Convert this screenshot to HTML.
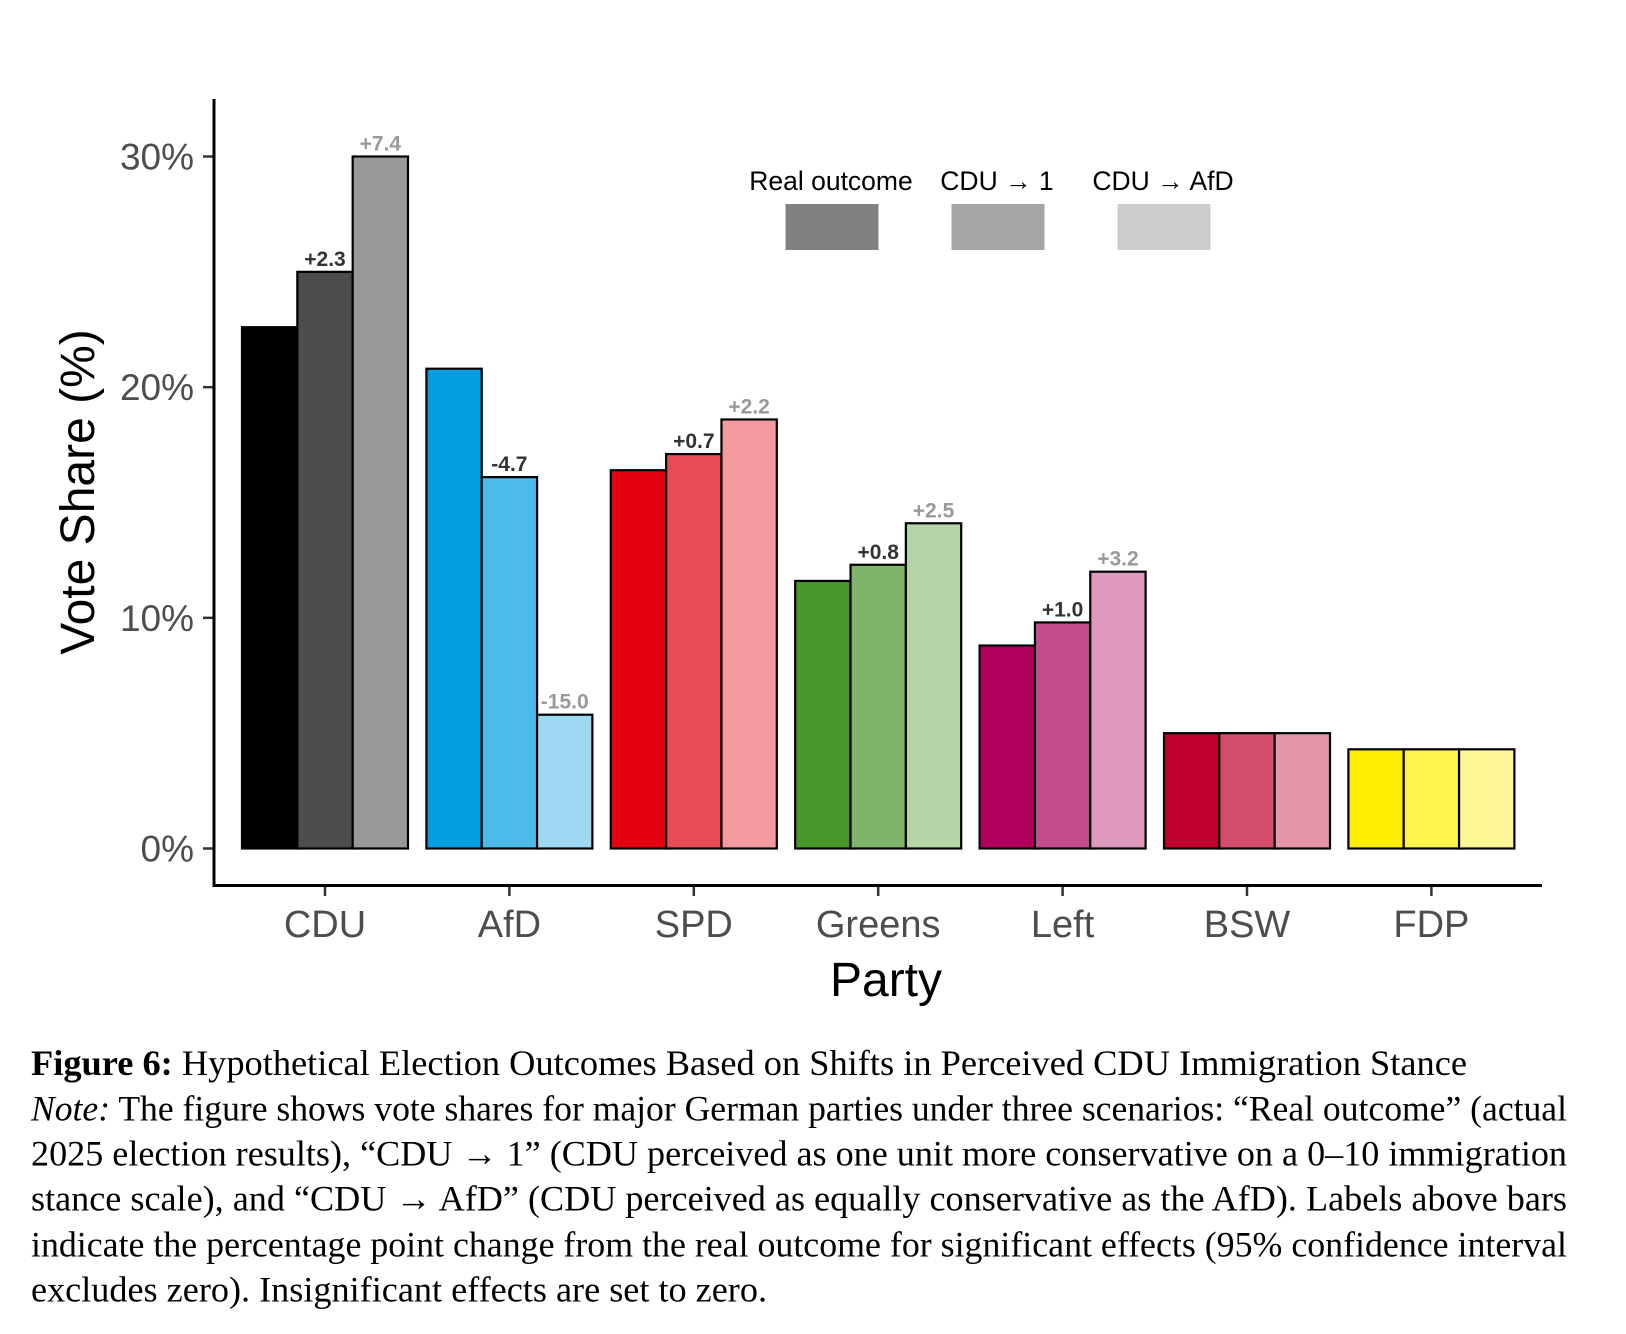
<!DOCTYPE html>
<html><head><meta charset="utf-8"><style>
html,body{margin:0;padding:0;background:#fff;}
svg{display:block;}
</style></head><body>
<svg id="chart" width="1626" height="1334" viewBox="0 0 1626 1334" xmlns="http://www.w3.org/2000/svg" font-family="'Liberation Sans', sans-serif">
<g id="bars"></g>
<g id="axes"></g>
<g>
<text x="831" y="190" font-size="26.5" text-anchor="middle" fill="#000">Real outcome</text>
<text x="997" y="190" font-size="26.5" text-anchor="middle" fill="#000">CDU → 1</text>
<text x="1163" y="190" font-size="26.5" text-anchor="middle" fill="#000">CDU → AfD</text>
<rect x="785.5" y="204" width="93" height="46" fill="#808080"/>
<rect x="951.5" y="204" width="93" height="46" fill="#a6a6a6"/>
<rect x="1117.5" y="204" width="93" height="46" fill="#cccccc"/>
</g>
<text transform="translate(94,492) rotate(-90)" font-size="48" text-anchor="middle" fill="#000">Vote Share (%)</text>
<text x="886" y="996" font-size="48" text-anchor="middle" fill="#000">Party</text>
<g font-family="'Liberation Serif', serif" font-size="36" fill="#000">
<text x="31" y="1075" textLength="1436" lengthAdjust="spacingAndGlyphs"><tspan font-weight="bold">Figure 6:</tspan> Hypothetical Election Outcomes Based on Shifts in Perceived CDU Immigration Stance</text>
<text x="31" y="1120.5" textLength="1536" lengthAdjust="spacingAndGlyphs"><tspan font-style="italic">Note:</tspan> The figure shows vote shares for major German parties under three scenarios: “Real outcome” (actual</text>
<text x="31" y="1165.5" textLength="1536" lengthAdjust="spacingAndGlyphs">2025 election results), “CDU → 1” (CDU perceived as one unit more conservative on a 0–10 immigration</text>
<text x="31" y="1210.5" textLength="1536" lengthAdjust="spacingAndGlyphs">stance scale), and “CDU → AfD” (CDU perceived as equally conservative as the AfD). Labels above bars</text>
<text x="31" y="1256.5" textLength="1536" lengthAdjust="spacingAndGlyphs">indicate the percentage point change from the real outcome for significant effects (95% confidence interval</text>
<text x="31" y="1301.5" textLength="736" lengthAdjust="spacingAndGlyphs">excludes zero). Insignificant effects are set to zero.</text>
</g>
</svg>
<script>
const parties = ["CDU","AfD","SPD","Greens","Left","BSW","FDP"];
const realOutcome = [22.6,20.8,16.4,11.6,8.8,5.0,4.3];
const cduPlus1 = [25.0,16.1,17.1,12.3,9.8,5.0,4.3];
const cduAfd = [30.0,5.8,18.6,14.1,12.0,5.0,4.3];
const labelsPlus1 = ["+2.3","-4.7","+0.7","+0.8","+1.0","",""];
const labelsAfd = ["+7.4","-15.0","+2.2","+2.5","+3.2","",""];
const yTicks = [0,10,20,30];
const colors = [
 ["#000000","#4d4d4d","#999999"],
 ["#009ee0","#4dbbe9","#9fd8f3"],
 ["#e3000f","#e84b55","#f39a9f"],
 ["#46962b","#7eb56b","#b5d5a9"],
 ["#b1005d","#c34c8d","#df98be"],
 ["#c1002f","#d44d6c","#e597a7"],
 ["#ffed00","#fff34d","#fff899"]
];
const NS="http://www.w3.org/2000/svg";
const y0=848.5, pxPer=(848.5-156.5)/30;
function yScale(v){return y0-v*pxPer;}
const step=184.4, firstCenter=325;
function xCenter(i){return firstCenter+i*step;}
const groupW=166, barW=groupW/3;
function mk(tag,attrs,parent){const e=document.createElementNS(NS,tag);for(const k in attrs)e.setAttribute(k,attrs[k]);parent.appendChild(e);return e;}
const bars=document.getElementById('bars');
const axes=document.getElementById('axes');
const series=[realOutcome,cduPlus1,cduAfd];
const labelSets=[null,labelsPlus1,labelsAfd];
const labelColors=[null,"#333333","#999999"];
parties.forEach((p,i)=>{
  const left=xCenter(i)-groupW/2;
  series.forEach((s,j)=>{
    const x=left+j*barW, y=yScale(s[i]);
    const r=mk('rect',{x:x,y:y,width:barW,height:y0-y,fill:colors[i][j],stroke:"#000","stroke-width":2.2},bars);
    
    
    if(labelSets[j] && labelSets[j][i]){
      const t=mk('text',{x:x+barW/2,y:y-6,"text-anchor":"middle","font-size":21,"font-weight":"bold",fill:labelColors[j]},bars);
      t.textContent=labelSets[j][i];
      
      
    }
  });
  const tk=mk('line',{x1:xCenter(i),x2:xCenter(i),y1:886,y2:896,stroke:"#333","stroke-width":2.5},axes);
  
  
  const tl=mk('text',{x:xCenter(i),y:937,"text-anchor":"middle","font-size":38,fill:"#4d4d4d"},axes);
  tl.textContent=p;
  
  
});
yTicks.forEach(v=>{
  const y=yScale(v);
  const tk=mk('line',{x1:203,x2:213,y1:y,y2:y,stroke:"#333","stroke-width":2.5},axes);
  
  
  const tl=mk('text',{x:194,y:y+13,"text-anchor":"end","font-size":37,fill:"#4d4d4d"},axes);
  tl.textContent=v+"%";
  
  
});
const ya=mk('line',{x1:214,x2:214,y1:99,y2:887,stroke:"#000","stroke-width":3},axes);


const xa=mk('line',{x1:213,x2:1542,y1:885.5,y2:885.5,stroke:"#000","stroke-width":3},axes);


</script>
</body></html>
